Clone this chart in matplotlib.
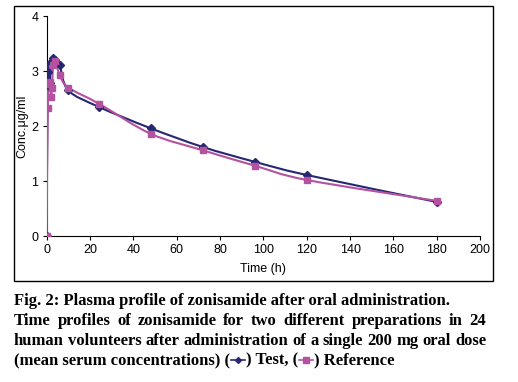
import matplotlib
matplotlib.use('Agg')
import matplotlib.pyplot as plt
from matplotlib.path import Path
from matplotlib.patches import PathPatch, Rectangle
from matplotlib.lines import Line2D
import numpy as np

# data
t_test = [0, 0.5, 1, 1.5, 2, 3, 4, 6, 10, 24, 48, 72, 96, 120, 180]
c_test = [0, 2.98, 2.72, 2.78, 3.16, 3.24, 3.20, 3.11, 2.65, 2.35, 1.96, 1.62, 1.35, 1.11, 0.62]
t_ref = [0, 0.5, 1, 1.5, 2, 2.5, 3, 4, 6, 10, 24, 48, 72, 96, 120, 180]
c_ref = [0, 2.32, 2.76, 2.80, 2.53, 2.70, 3.11, 3.18, 2.93, 2.70, 2.41, 1.86, 1.56, 1.28, 1.02, 0.64]

col_test = '#262673'
col_ref = '#b4529f'

plt.rcParams['font.family'] = ['Liberation Sans', 'DejaVu Sans']


def smooth_path(x, y):
    # excel style smoothed line: cubic bezier through every point
    x = np.asarray(x, float)
    y = np.asarray(y, float)
    n = len(x)
    verts = [(x[0], y[0])]
    codes = [Path.MOVETO]
    for i in range(n - 1):
        i0 = max(i - 1, 0)
        i3 = min(i + 2, n - 1)
        c1 = (x[i] + (x[i + 1] - x[i0]) / 6, y[i] + (y[i + 1] - y[i0]) / 6)
        c2 = (x[i + 1] - (x[i3] - x[i]) / 6, y[i + 1] - (y[i3] - y[i]) / 6)
        verts += [c1, c2, (x[i + 1], y[i + 1])]
        codes += [Path.CURVE4] * 3
    return Path(verts, codes)


fig = plt.figure(figsize=(5.18, 3.82), dpi=100)
ax = fig.add_axes([0.090, 0.382, 0.837, 0.576])

ax.add_patch(PathPatch(smooth_path(t_test, c_test), fill=False, ec=col_test, lw=1.5, zorder=3))
ax.add_patch(PathPatch(smooth_path(t_ref, c_ref), fill=False, ec=col_ref, lw=1.5, zorder=3))
ax.plot(t_test, c_test, ls='none', marker='D', ms=4, color=col_test, zorder=4)
ax.plot(t_ref, c_ref, ls='none', marker='s', ms=5, color=col_ref, zorder=5)

ax.set_xlim(0, 200)
ax.set_ylim(0, 4)
ax.set_xticks(range(0, 201, 20))
ax.set_yticks(range(0, 5))
ax.spines['top'].set_visible(False)
ax.spines['right'].set_visible(False)
ax.tick_params(direction='out', length=3, labelsize=9, pad=3)
ax.set_xlabel('Time (h)', fontsize=9, labelpad=5)
ax.set_ylabel('Conc.μg/ml', fontsize=9, labelpad=2)

# frame around the chart
fig.patches.append(Rectangle((0.027, 0.264), 0.925, 0.720, transform=fig.transFigure,
                             fill=False, ec='black', lw=1))

# caption
cap_font = dict(family=['Liberation Serif', 'DejaVu Serif'], fontweight='bold', fontsize=12)
left = 14 / 518
right = 486 / 518
lines = [
    ('Fig. 2: Plasma profile of zonisamide after oral administration.', False),
    ('Time profiles of zonisamide for two different preparations in 24', True),
    ('human volunteers after administration of a single 200 mg oral dose', True),
]
ys = [1 - 305 / 382, 1 - 325 / 382, 1 - 345 / 382, 1 - 364 / 382]
renderer = fig.canvas.get_renderer()


def width_of(txt):
    bb = txt.get_window_extent(renderer)
    return bb.width / fig.bbox.width


for (s, just), y in zip(lines, ys):
    if not just:
        fig.text(left, y, s, ha='left', va='baseline', **cap_font)
        continue
    words = s.split()
    objs = [fig.text(left, y, w, ha='left', va='baseline', **cap_font) for w in words]
    widths = [width_of(o) for o in objs]
    gap = (right - left - sum(widths)) / (len(words) - 1)
    xx = left
    for o, w in zip(objs, widths):
        o.set_x(xx)
        xx += w + gap

# last line with legend symbols
y = ys[3]
xx = left
parts = ['(mean serum concentrations) (', ') Test, (', ') Reference']
syms = [(col_test, 'D', 3), (col_ref, 's', 4)]
for k, s in enumerate(parts):
    o = fig.text(xx, y, s, ha='left', va='baseline', **cap_font)
    xx += width_of(o)
    if k < len(syms):
        c, m, ms = syms[k]
        sw = 16 / 518
        fig.lines.append(Line2D([xx + 0.002, xx + sw - 0.002], [y + 0.011, y + 0.011],
                                transform=fig.transFigure, color=c, lw=1.2))
        fig.lines.append(Line2D([xx + sw / 2], [y + 0.011], transform=fig.transFigure,
                                color=c, marker=m, ms=ms, ls='none'))
        xx += sw

fig.savefig('out.png', dpi=100)
